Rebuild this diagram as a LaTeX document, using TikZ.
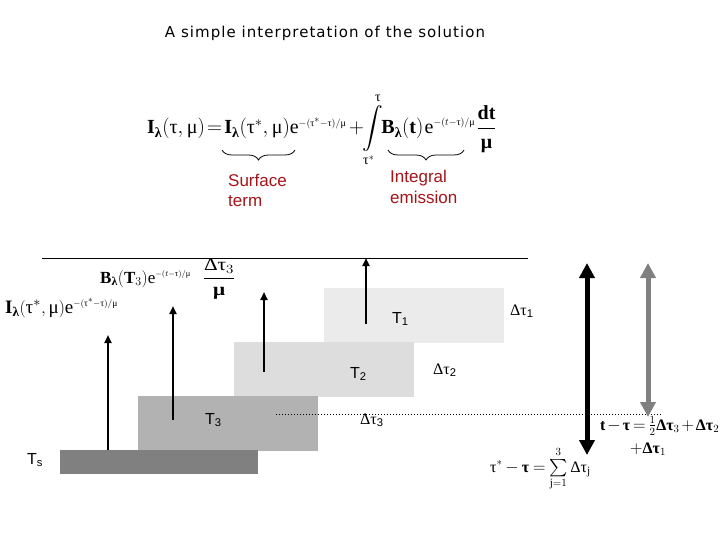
\documentclass[tikz,border=0pt]{standalone}
\usepackage{amsmath}
\usepackage{fontspec}
\setmainfont{Liberation Serif}
\setsansfont{Liberation Sans}
\newfontfamily\titlefont[LetterSpace=7]{DejaVu Sans}
\usetikzlibrary{arrows.meta,decorations.pathreplacing}
\definecolor{labred}{RGB}{165,20,25}
\definecolor{boxS}{RGB}{128,128,128}
\definecolor{boxC}{RGB}{178,178,178}
\definecolor{boxB}{RGB}{221,221,221}
\definecolor{boxA}{RGB}{235,235,235}
\newcommand\tb{\text{\bfseries τ}}
\newcommand\tn{\text{τ}}
\newcommand\mb{\text{\bfseries μ}}
\newcommand\mn{\text{μ}}
\newcommand\lb{\text{\bfseries λ}}
\newcommand\Dl{\text{Δ}}
\newcommand\Db{\text{\bfseries Δ}}
\newcommand\tight{\thickmuskip=2mu\medmuskip=1.5mu}
\begin{document}
\begin{tikzpicture}[x=1pt,y=-1pt,
  layerbox/.style={draw=none,inner sep=0pt,anchor=north west},
  tlabel/.style={font=\sffamily\fontsize{16}{19}\selectfont,anchor=base west,inner sep=0pt},
  dlabel/.style={font=\fontsize{16}{19}\selectfont,anchor=base west,inner sep=0pt},
  redlabel/.style={font=\sffamily\fontsize{17}{20}\selectfont,text=labred,anchor=base west,inner sep=0pt},
  eqnode/.style={anchor=base west,inner sep=0pt},
  ray/.style={line width=2pt,-{Triangle[width=7pt,length=8pt]}},
  bigarrow/.style={line width=5pt,{Triangle[width=15pt,length=15pt]}-{Triangle[width=15pt,length=15pt]}},
  bracestyle/.style={decorate,decoration={brace,mirror,amplitude=10pt},line width=0.8pt}]
\useasboundingbox (0,0) rectangle (720,540);
\fill[white] (0,0) rectangle (720,540);

% title
\node[font=\titlefont\fontsize{15}{17}\selectfont] (title) at (325,33) {A simple interpretation of the solution};

% main equation
\node[eqnode,font=\fontsize{20}{24}\selectfont] (eqL) at (147,134)
 {$\tight\mathbf{I}_{\lb}(\tn,\mn)=\mathbf{I}_{\lb}(\tn^{*},\mn)\mathrm{e}^{\scriptscriptstyle -(\tn^{*}-\tn)/\mn}$};
\node[eqnode,font=\fontsize{20}{24}\selectfont] (eqR) at (349,134)
 {$+\mkern-4mu\displaystyle\int\limits_{\tn^{*}}^{\tn}\mkern-5mu\mathbf{B}_{\lb}(\mathbf{t})\mkern1mu\mathrm{e}^{\scriptscriptstyle -(t-\tn)/\mn}\mkern1mu\frac{\mathbf{dt}}{\mb}$};

% braces
\coordinate (b1l) at (222,150);
\coordinate (b1r) at (295,150);
\coordinate (b2l) at (388,150);
\coordinate (b2r) at (464,150);
\draw[bracestyle] (b1l) -- (b1r);
\draw[bracestyle] (b2l) -- (b2r);
\node[redlabel] (surf1) at (228,187) {Surface};
\node[redlabel] (surf2) at (228,207) {term};
\node[redlabel] (int1) at (390,183) {Integral};
\node[redlabel] (int2) at (390,204) {emission};

% layers
\node[layerbox,fill=boxA,minimum width=180pt,minimum height=55pt] (L1) at (324,288) {};
\node[layerbox,fill=boxB,minimum width=180pt,minimum height=55pt] (L2) at (234,342) {};
\node[layerbox,fill=boxC,minimum width=180pt,minimum height=55pt] (L3) at (138,396) {};
\node[layerbox,fill=boxS,minimum width=198pt,minimum height=24pt] (LS) at (60,450) {};

% top line and dotted line
\coordinate (topL) at (42,258);
\coordinate (topR) at (528,258);
\draw[line width=1pt] (topL) -- (topR);
\coordinate (dotL) at (276,414);
\coordinate (dotR) at (662,414);
\draw[dotted,line width=1pt] (dotL) -- (dotR);

% layer labels
\node[tlabel] (T1) at (392,323) {T\textsubscript{1}};
\node[tlabel] (T2) at (350,378) {T\textsubscript{2}};
\node[tlabel] (T3) at (205,424) {T\textsubscript{3}};
\node[tlabel] (Ts) at (27,464) {T\textsubscript{s}};
\node[dlabel] (D1) at (510,315) {Δτ\textsubscript{\sffamily 1}};
\node[dlabel] (D2) at (433,374) {Δτ\textsubscript{\sffamily 2}};
\node[dlabel] (D3) at (360,424) {Δτ\textsubscript{\sffamily 3}};

% rays
\coordinate (r1s) at (108,450); \coordinate (r1e) at (108,335);
\coordinate (r2s) at (173,420); \coordinate (r2e) at (173,306);
\coordinate (r3s) at (264,372); \coordinate (r3e) at (264,292);
\coordinate (r4s) at (366,324); \coordinate (r4e) at (366,258);
\draw[ray] (r1s) -- (r1e);
\draw[ray] (r2s) -- (r2e);
\draw[ray] (r3s) -- (r3e);
\draw[ray] (r4s) -- (r4e);

% side equations
\node[eqnode,font=\fontsize{17}{20}\selectfont] (eqBT) at (100,283)
 {$\tight\mathbf{B}_{\lb}(\mathbf{T}_{3})\mathrm{e}^{\scriptscriptstyle -(t-\tn)/\mn}\mkern12mu\scalebox{1.25}[1.05]{$\dfrac{\Dl\tn_{3}}{\mb}$}$};
\node[eqnode,font=\fontsize{19}{22}\selectfont] (eqI) at (5,313)
 {$\tight\mathbf{I}_{\lb}(\tn^{*},\mn)\mathrm{e}^{\scriptscriptstyle -(\tn^{*}-\tn)/\mn}$};

% big arrows
\coordinate (k1) at (587,263); \coordinate (k2) at (587,455);
\coordinate (g1) at (648,263); \coordinate (g2) at (648,417);
\draw[bigarrow,black] (k1) -- (k2);
\draw[bigarrow,boxS] (g1) -- (g2);

\node[eqnode,font=\fontsize{16}{19}\selectfont] (eqT) at (600,430)
 {$\thickmuskip=3mu\medmuskip=2mu\mathbf{t}-\tb=\tfrac{1}{2}\Db\tb_{3}+\Db\tb_{2}$};
\node[eqnode,font=\fontsize{16}{19}\selectfont] (eqT2) at (630,453)
 {$+\Db\tb_{1}$};
\node[eqnode,font=\fontsize{16}{19}\selectfont] (eqS) at (490,472)
 {$\thickmuskip=4mu\medmuskip=3mu\tn^{*}-\tb=\sum\limits_{\mathrm{j}=1}^{3}\Dl\tn_{\mathrm{j}}$};
\end{tikzpicture}
\end{document}
